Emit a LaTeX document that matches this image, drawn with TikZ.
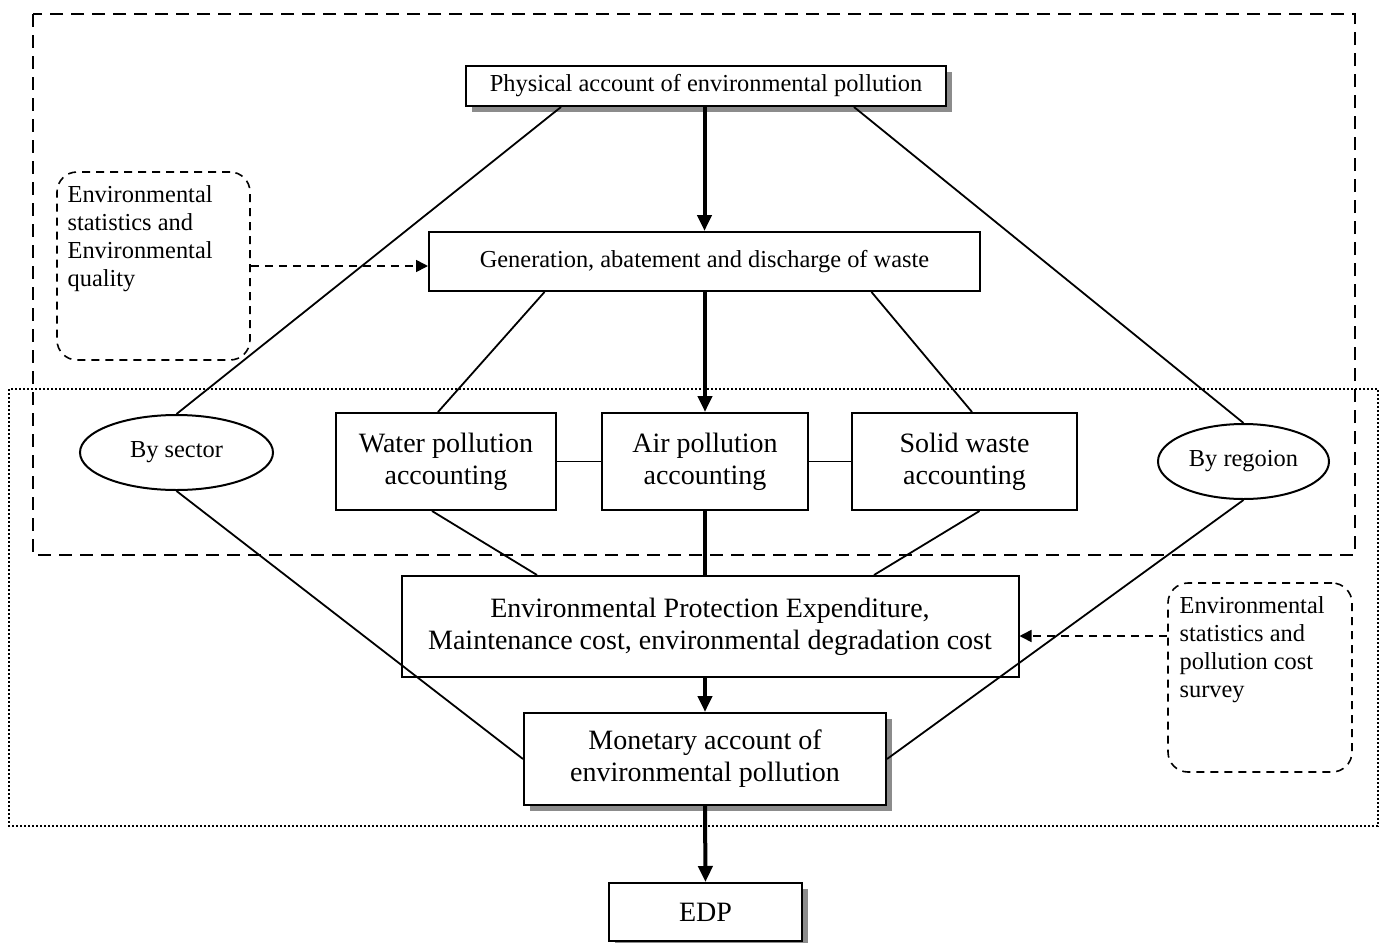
\documentclass[tikz,border=0pt]{standalone}
\usepackage{fontspec}
\setmainfont{Liberation Serif}
\usetikzlibrary{arrows.meta,shapes.geometric,shadows}
\begin{document}
\begin{tikzpicture}[x=0.5pt,y=-0.5pt,
		small/.style={font=\fontsize{12.2}{14}\selectfont},
		large/.style={font=\fontsize{14}{16}\selectfont},
		box/.style={draw,line width=1pt,fill=white,inner sep=2pt,align=center},
		shadowbox/.style={box,drop shadow={shadow xshift=3pt,shadow yshift=-3pt,fill=black!45,opacity=1}},
		oval/.style={ellipse,draw,line width=1pt,fill=white,inner sep=0pt,small},
		note/.style={draw,rounded corners=10pt,dash pattern=on 4pt off 3pt,line width=0.8pt},
		notetext/.style={small,align=left,inner sep=0pt},
		link/.style={line width=0.9pt},
		mainarrow/.style={line width=2pt,-{Triangle[length=8pt,width=7pt]}},
		notearrow/.style={line width=0.8pt,dash pattern=on 4pt off 3pt,-{Triangle[length=6pt,width=6pt]}}]
	\useasboundingbox (0,0) rectangle (1383,943);
	% frames
	\draw[line width=0.8pt,dash pattern=on 6.5pt off 4pt] (33,14) rectangle (1355,555);
	\draw[line width=0.8pt,dash pattern=on 1pt off 1pt] (9,389) rectangle (1378,826);
	% boxes
	\node[shadowbox,small,minimum width=240pt,minimum height=20pt] (phys) at (706,86) {Physical account of environmental pollution};
	\node[box,small,minimum width=275.5pt,minimum height=29.5pt] (gen) at (704.5,261.5) {Generation, abatement and discharge of waste};
	\node[box,large,minimum width=110pt,minimum height=48.5pt] (water) at (446,461.5) {Water pollution\\accounting};
	\node[box,large,minimum width=103pt,minimum height=48.5pt] (air) at (705,461.5) {Air pollution\\accounting};
	\node[box,large,minimum width=112.5pt,minimum height=48.5pt] (solid) at (964.5,461.5) {Solid waste\\accounting};
	\node[oval,minimum width=96.5pt,minimum height=37.5pt] (sector) at (176.5,452.5) {By sector};
	\node[oval,minimum width=85.5pt,minimum height=37.5pt] (region) at (1243.5,461.5) {By regoion};
	\node[box,large,minimum width=308.5pt,minimum height=50.5pt] (epe) at (710,626.5) {Environmental Protection Expenditure,\\Maintenance cost, environmental degradation cost};
	\node[shadowbox,large,minimum width=181pt,minimum height=46pt] (money) at (705,759) {Monetary account of\\environmental pollution};
	\node[shadowbox,large,minimum width=96.5pt,minimum height=29pt] (edp) at (705.5,912) {EDP};
	% notes
	\node[note,minimum width=96.5pt,minimum height=94pt] (noteL) at (153.5,266) {};
	\node[notetext,anchor=north west] (noteLtext) at ([xshift=5.5pt,yshift=-7pt]noteL.north west) {Environmental\\statistics and\\Environmental\\quality};
	\node[note,minimum width=92pt,minimum height=94.5pt] (noteR) at (1260,677.5) {};
	\node[notetext,anchor=north west] (noteRtext) at ([xshift=6pt,yshift=-7pt]noteR.north west) {Environmental\\statistics and\\pollution cost\\survey};
	% main flow
	\draw[mainarrow] (phys.south -| gen.north) -- (gen.north);
	\draw[mainarrow] (air.north |- gen.south) -- (air.north);
	\draw[line width=2pt] (air.south) -- (air.south |- epe.north);
	\draw[mainarrow] (money.north |- epe.south) -- (money.north);
	\draw[mainarrow] (money.south) -- (edp.north);
	% side links
	\draw[link] ([xshift=-72.5pt]phys.south) -- (sector.north);
	\draw[link] ([xshift=74pt]phys.south) -- (region.north);
	\draw[link] (sector.south) -- (money.west);
	\draw[link] (region.south) -- (money.east);
	\draw[link] ([xshift=-80pt]gen.south) -- ([xshift=-4pt]water.north);
	\draw[link] ([xshift=83.5pt]gen.south) -- ([xshift=3.75pt]solid.north);
	\draw[link] (water) -- (air);
	\draw[link] (air) -- (solid);
	\draw[link] ([xshift=-7pt]water.south) -- ([xshift=-86.5pt]epe.north);
	\draw[link] ([xshift=7.5pt]solid.south) -- ([xshift=82pt]epe.north);
	% data sources
	\draw[notearrow] (noteL.east) -- (noteL.east -| gen.west);
	\draw[notearrow] (noteR.west |- 0,636) -- (epe.east |- 0,636);
\end{tikzpicture}
\end{document}
